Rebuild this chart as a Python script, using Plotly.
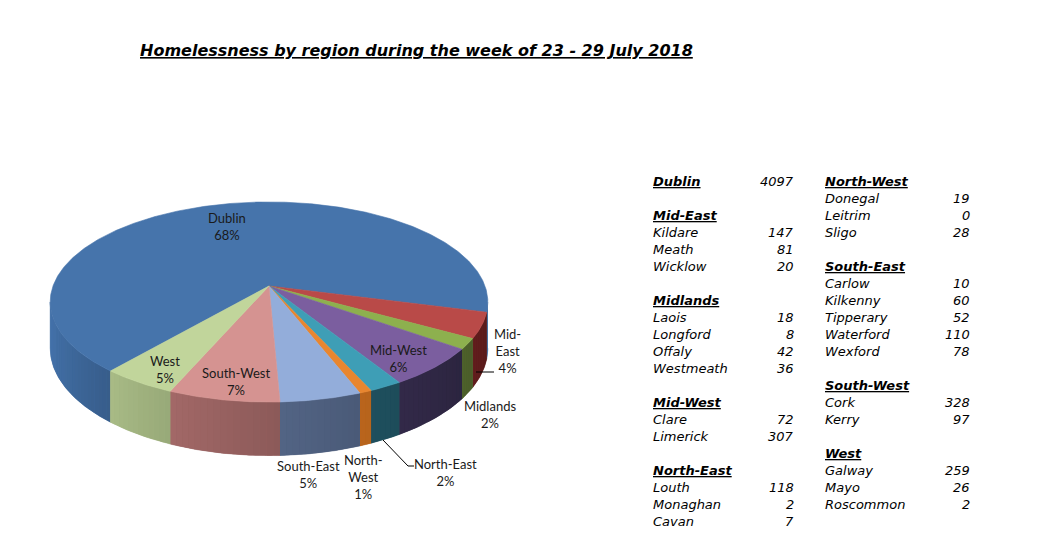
import numpy as np
import plotly.graph_objects as go

# Chart text
title = "Homelessness by region during the week of 23 - 29 July 2018"

# Regions in pie order (clockwise)
regions = ["Dublin", "Mid-East", "Midlands", "Mid-West", "North-East",
           "North-West", "South-East", "South-West", "West"]

# County figures from the table on the right
county_names = ["Dublin",
                "Kildare", "Meath", "Wicklow",
                "Laois", "Longford", "Offaly", "Westmeath",
                "Clare", "Limerick",
                "Louth", "Monaghan", "Cavan",
                "Donegal", "Leitrim", "Sligo",
                "Carlow", "Kilkenny", "Tipperary", "Waterford", "Wexford",
                "Cork", "Kerry",
                "Galway", "Mayo", "Roscommon"]
county_region = ["Dublin",
                 "Mid-East", "Mid-East", "Mid-East",
                 "Midlands", "Midlands", "Midlands", "Midlands",
                 "Mid-West", "Mid-West",
                 "North-East", "North-East", "North-East",
                 "North-West", "North-West", "North-West",
                 "South-East", "South-East", "South-East", "South-East", "South-East",
                 "South-West", "South-West",
                 "West", "West", "West"]
county_values = [4097,
                 147, 81, 20,
                 18, 8, 42, 36,
                 72, 307,
                 118, 2, 7,
                 19, 0, 28,
                 10, 60, 52, 110, 78,
                 328, 97,
                 259, 26, 2]

left_table = ["Dublin", "Mid-East", "Midlands", "Mid-West", "North-East"]
right_table = ["North-West", "South-East", "South-West", "West"]

# region totals for the pie
region_totals = [sum(v for r, v in zip(county_region, county_values) if r == reg)
                 for reg in regions]
total = sum(region_totals)
fracs = np.array(region_totals) / total
cum = np.concatenate([[0], np.cumsum(fracs)])

# colours (Excel 2007 style 3D pie)
top_colors = ["#4674AB", "#B94A48", "#8DB04E", "#7B5E9F", "#3E9EB6",
              "#E8862F", "#93ADDA", "#D59391", "#C1D59B"]
side_colors = ["#3F6A9E", "#5E1C1C", "#4C5F2A", "#2F2744", "#1E4E5C",
               "#B8641C", "#4E5F7E", "#976160", "#A0B27F"]

# pie geometry (pixel space)
CX, CY = 269, 286
RX, RY, PERSP, DEPTH = 216, 97.5, 0.16, 45
START = 220.1
PAGE_MARGIN = 8  # default body margin of the html page


def project(t, r=1.0, h=0.0):
    t = np.radians(t)
    u = -np.cos(t) * r
    den = 1 - PERSP * u
    return CX + RX * r * np.sin(t) / den, CY + (RY * u + h) / den


def shade(hex_color, f):
    rgb = [int(hex_color[i:i + 2], 16) for i in (1, 3, 5)]
    rgb = [max(0, min(255, int(round(c * f)))) for c in rgb]
    return "rgb(%d,%d,%d)" % tuple(rgb)


def wall_xy(c0, c1, npts=8):
    tt = np.linspace(c0, c1, npts)
    xt, yt = project(tt)
    xb, yb = project(tt[::-1], h=DEPTH)
    return np.concatenate([xt, xb]), np.concatenate([yt, yb])


fig = go.Figure()

# visible part of the outer wall
ts = np.arange(0, 360, 0.1)
xs, _ = project(ts)
t_right, t_left = ts[np.argmax(xs)], ts[np.argmin(xs)]

# side walls
for i, reg in enumerate(regions):
    a0 = START + 360 * cum[i]
    a1 = START + 360 * cum[i + 1]
    for w0, w1 in [(t_right, t_left), (t_right + 360, t_left + 360)]:
        lo, hi = max(a0, w0), min(a1, w1)
        if hi <= lo:
            continue
        mid = (lo + hi) / 2
        # solid base so chunk seams do not show white
        bx, by = wall_xy(lo, hi, max(4, int(hi - lo) * 2))
        base = shade(side_colors[i], 1.0)
        fig.add_trace(go.Scatter(
            x=bx, y=by, fill="toself", fillcolor=base, mode="lines",
            line=dict(color=base, width=0.5), hoverinfo="skip", showlegend=False))
        n = int(np.ceil((hi - lo) / 1.5))
        edges = np.linspace(lo, hi, n + 1)
        for c0, c1 in zip(edges[:-1], edges[1:]):
            f = float(np.clip(1 + 0.006 * ((c0 + c1) / 2 - mid), 0.8, 1.2))
            col = shade(side_colors[i], f)
            wx, wy = wall_xy(c0, c1, 4)
            fig.add_trace(go.Scatter(
                x=wx, y=wy, fill="toself", fillcolor=col, mode="none",
                hoverinfo="skip", showlegend=False))

# top faces
for i, reg in enumerate(regions):
    a0 = START + 360 * cum[i]
    a1 = START + 360 * cum[i + 1]
    tt = np.linspace(a0, a1, max(3, int((a1 - a0) / 0.5)))
    xa, ya = project(tt)
    fig.add_trace(go.Scatter(
        x=np.concatenate([[CX], xa, [CX]]), y=np.concatenate([[CY], ya, [CY]]),
        fill="toself", fillcolor=top_colors[i], mode="lines",
        line=dict(color=top_colors[i], width=0.6), name=reg,
        hoverinfo="skip", showlegend=False))

# data labels
label_pos = {"Dublin": (227, 226), "Mid-East": (507, 351), "Midlands": (490, 414),
             "Mid-West": (398, 358), "North-East": (445, 472), "North-West": (363, 477),
             "South-East": (308, 474), "South-West": (236, 381), "West": (165, 369)}
wrapped = {"Mid-East", "North-West"}
annotations = []
for reg, val in zip(regions, region_totals):
    name = reg.replace("-", "-<br>") if reg in wrapped else reg
    x, y = label_pos[reg]
    annotations.append(dict(
        x=x, y=y, xref="x", yref="y", showarrow=False,
        text="%s<br>%d%%" % (name, round(val / total * 100)),
        font=dict(family="Lato", size=13, color="#1a1a1a"), align="center"))

# leader lines
shapes = [
    dict(type="path", path="M 476 372 L 494 372", xref="x", yref="y",
         line=dict(color="#000000", width=1)),
    dict(type="path", path="M 383 440 L 408 466 L 414 466", xref="x", yref="y",
         line=dict(color="#000000", width=1)),
]

# title
annotations.append(dict(
    x=138, y=50, xref="x", yref="y", xanchor="left", showarrow=False,
    text="<b><i><u>%s</u></i></b>" % title,
    font=dict(family="DejaVu Sans", size=16, color="#000000")))

# table on the right
tfont = dict(family="DejaVu Sans", size=13, color="#000000")


def add_column(col_regions, x_name, x_val, y0):
    y = y0
    for reg in col_regions:
        names = [n for n, r in zip(county_names, county_region) if r == reg]
        vals = [v for v, r in zip(county_values, county_region) if r == reg]
        annotations.append(dict(x=x_name, y=y, xref="x", yref="y", xanchor="left",
                                showarrow=False, text="<b><i><u>%s</u></i></b>" % reg,
                                font=tfont))
        if names == [reg]:
            annotations.append(dict(x=x_val, y=y, xref="x", yref="y", xanchor="right",
                                    showarrow=False, text="<i>%d</i>" % vals[0], font=tfont))
            y += 34
            continue
        y += 17
        for n, v in zip(names, vals):
            annotations.append(dict(x=x_name, y=y, xref="x", yref="y", xanchor="left",
                                    showarrow=False, text="<i>%s</i>" % n, font=tfont))
            annotations.append(dict(x=x_val, y=y, xref="x", yref="y", xanchor="right",
                                    showarrow=False, text="<i>%d</i>" % v, font=tfont))
            y += 17
        y += 17


add_column(left_table, 651, 796, 181)
add_column(right_table, 823, 972, 181)

W, H = 1046 - 2 * PAGE_MARGIN, 551 - 2 * PAGE_MARGIN
fig.update_layout(
    width=W, height=H,
    margin=dict(l=0, r=0, t=0, b=0),
    paper_bgcolor="white", plot_bgcolor="white",
    xaxis=dict(range=[PAGE_MARGIN, PAGE_MARGIN + W], visible=False, fixedrange=True),
    yaxis=dict(range=[PAGE_MARGIN + H, PAGE_MARGIN], visible=False, fixedrange=True),
    annotations=annotations, shapes=shapes,
    showlegend=False,
)

fig.write_html("out.html")
